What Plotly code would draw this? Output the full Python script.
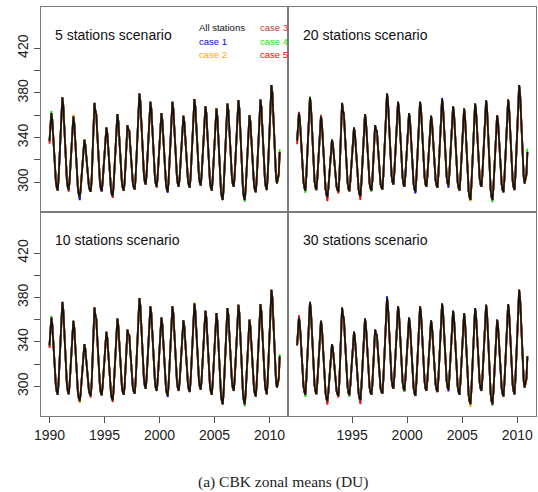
import plotly.graph_objects as go

W, H = 538, 492

years = list(range(1990, 2011))

# Monthly total ozone, "All stations" (DU), one row per year Jan..Dec
all_stations = [
    [337, 353, 362, 356, 341, 324, 310, 300, 295, 292.5, 305, 324],      # 1990
    [344, 366, 376, 369, 351, 330, 314, 301, 295.5, 293, 303, 318],      # 1991
    [334, 351, 359, 353, 337, 319, 305, 294, 289, 286.5, 294, 306],      # 1992
    [318, 332, 338, 334, 324, 312, 303, 296, 293, 291.5, 303, 322],      # 1993
    [348, 371, 364, 361, 345, 326, 311, 300, 294, 292, 301, 314],        # 1994
    [327, 342, 349, 344, 330, 315, 303, 294, 289, 287.5, 298.5, 315],    # 1995
    [333, 352, 361, 355, 340, 323, 310, 299, 294.5, 292.5, 301, 315],    # 1996
    [334, 351, 347, 346, 333, 318, 306, 298, 295, 293.5, 306, 326],      # 1997
    [347, 369, 379.5, 373, 355, 335, 318, 306, 300, 298, 309, 326],      # 1998
    [344, 363, 372, 366, 349, 330, 315, 304, 298, 296, 306, 321],        # 1999
    [337, 354, 362, 356, 341, 323, 309, 298.5, 293.5, 291.5, 303.5, 322],  # 2000
    [341, 362, 372, 366, 349, 330, 315, 304, 298, 296, 305.5, 320],      # 2001
    [335, 352, 359.5, 354, 340, 324, 311, 301.5, 297, 295, 307, 325],    # 2002
    [344, 365, 374.5, 368, 351, 332, 316, 305, 299, 297, 308, 324],      # 2003
    [341, 359.5, 368, 362, 345, 326.5, 311, 300, 295, 292.5, 303.5, 320],  # 2004
    [338, 357, 366, 359, 341, 321, 304.5, 292, 286.5, 284, 297, 317],    # 2005
    [337.5, 360, 370.5, 364.5, 348, 329.5, 314.5, 303.5, 298, 296, 307.5, 325.5],  # 2006
    [344, 364, 373.5, 366, 346.5, 324, 306.5, 293, 286.5, 284, 295.5, 313],  # 2007
    [331, 351, 360, 354.5, 339, 322, 308, 298, 293, 291, 303.5, 322.5],  # 2008
    [342.5, 364, 374, 367.5, 350, 329.5, 313, 301, 295.5, 293, 307, 328.5],  # 2009
    [351, 376, 387, 380, 361, 339, 320, 305, 299, 302, 307, 327],        # 2010
]

case_names = ["case 1", "case 2", "case 3", "case 4", "case 5"]
case_colors = ["#0000ff", "#ffa500", "#cd3333", "#00ee00", "#ff0000"]
case_draw_order = ["case 5", "case 4", "case 3", "case 1", "case 2"]

scenarios = ["5 stations scenario", "20 stations scenario",
             "10 stations scenario", "30 stations scenario"]

# Small departures of each case from "All stations" (month index -> DU),
# read off where the coloured lines peek out from under the black one.
case_offsets = {
    "5 stations scenario": {
        "case 1": {33: -2.5, 160: 1.5, 129: -1.0},
        "case 2": {26: 1.5, 250: -2.0, 57: 1.0},
        "case 3": {0: -1.5},
        "case 4": {2: 2.0, 213: -1.5, 251: 2.5},
        "case 5": {0: -2.5, 21: -1.5, 69: -1.5, 117: -1.0, 33: -1.0},
    },
    "20 stations scenario": {
        "case 1": {129: -1.5, 165: -2.0, 158: 1.0},
        "case 2": {250: -2.5, 189: -1.0},
        "case 3": {26: 1.5, 40: -1.5},
        "case 4": {9: -2.0, 14: 1.0, 213: -2.0, 251: 3.0, 81: -1.0},
        "case 5": {0: -3.0, 2: 1.0, 33: -3.5, 69: -3.5, 87: -2.0, 45: -1.5},
    },
    "10 stations scenario": {
        "case 1": {160: 1.5, 129: -1.0},
        "case 2": {33: -1.5, 250: -2.0},
        "case 3": {0: -1.5},
        "case 4": {2: 1.5, 213: -2.0, 251: 2.0, 158: 1.0},
        "case 5": {0: -2.5, 45: -1.5, 69: -1.5},
    },
    "30 stations scenario": {
        "case 1": {86: 2.0, 98: 1.5, 165: -1.5, 233: -1.5},
        "case 2": {189: -2.5, 250: -2.5},
        "case 3": {87: -2.0},
        "case 4": {9: -2.0, 57: -1.5, 213: -1.5, 117: -1.0},
        "case 5": {2: 2.0, 33: -3.0, 69: -3.5, 45: -1.5},
    },
}

x_ticks_left = [1990, 1995, 2000, 2005, 2010]
x_ticks_right = [1995, 2000, 2005, 2010]
y_ticks = [300, 320, 340, 360, 380, 400, 420]
y_ticktext = ["300", "", "340", "", "380", "", "420"]

# flatten monthly series
t = [y + m / 12 for y in years for m in range(12)]
base = [v for row in all_stations for v in row]

# layout geometry (pixels)
xl0, xm, xr1 = 40.7, 288.3, 536.0
yt0, ym, yb1 = 7.0, 212.0, 416.0
def px(x):
    return x / W
def py(y):
    return 1 - y / H

domains = {
    "5 stations scenario": ([px(xl0), px(xm)], [py(ym), py(yt0)]),
    "20 stations scenario": ([px(xm), px(xr1)], [py(ym), py(yt0)]),
    "10 stations scenario": ([px(xl0), px(xm)], [py(yb1), py(ym)]),
    "30 stations scenario": ([px(xm), px(xr1)], [py(yb1), py(ym)]),
}

fig = go.Figure()
layout = dict(
    width=W, height=H, autosize=False,
    margin=dict(l=0, r=0, t=0, b=0),
    paper_bgcolor="white", plot_bgcolor="white",
    showlegend=False,
    font=dict(family="Liberation Sans, Arial, sans-serif", color="#222222"),
)

tickfont = dict(family="Liberation Sans, Arial, sans-serif", size=14, color="#222222")
color_of = dict(zip(case_names, case_colors))

for i, sc in enumerate(scenarios):
    k = "" if i == 0 else str(i + 1)
    xa, ya = "x" + k, "y" + k
    for cname in case_draw_order:
        offs = case_offsets[sc].get(cname, {})
        vals = [v + offs.get(j, 0) for j, v in enumerate(base)]
        fig.add_trace(go.Scatter(x=t, y=vals, mode="lines", xaxis=xa, yaxis=ya,
                                 line=dict(color=color_of[cname], width=1.8),
                                 hoverinfo="skip"))
    fig.add_trace(go.Scatter(x=t, y=base, mode="lines", xaxis=xa, yaxis=ya,
                             line=dict(color="#161210", width=1.7), hoverinfo="skip"))

    dx, dy = domains[sc]
    is_left = i in (0, 2)
    is_bottom = i in (2, 3)
    xax = dict(domain=dx, range=[1989.2, 2011.7], anchor=ya, automargin=False,
               showgrid=False, zeroline=False, showline=True, mirror=True,
               linecolor="#7a7a7a", linewidth=1.2)
    if is_bottom:
        xax.update(tickmode="array",
                   tickvals=x_ticks_left if is_left else x_ticks_right,
                   ticks="outside", ticklen=6, tickcolor="#555555", tickwidth=1,
                   tickfont=tickfont, showticklabels=True)
    else:
        xax.update(showticklabels=False, ticks="")
    yax = dict(domain=dy, range=[273.3, 457], anchor=xa, automargin=False,
               showgrid=False, zeroline=False, showline=True, mirror=True,
               linecolor="#7a7a7a", linewidth=1.2)
    if is_left:
        yax.update(tickmode="array", tickvals=y_ticks, ticktext=y_ticktext,
                   ticks="outside", ticklen=6, tickcolor="#555555", tickwidth=1,
                   tickangle=-90, tickfont=tickfont, showticklabels=True)
    else:
        yax.update(showticklabels=False, ticks="")
    layout["xaxis" + k] = xax
    layout["yaxis" + k] = yax

annotations = []
title_pos = {
    "5 stations scenario": (52.7, 35.5),
    "20 stations scenario": (301.0, 35.5),
    "10 stations scenario": (52.7, 240.0),
    "30 stations scenario": (301.0, 240.0),
}
for sc, (x0, y0) in title_pos.items():
    annotations.append(dict(x=px(x0), y=py(y0), xref="paper", yref="paper",
                            text=sc, showarrow=False, xanchor="left", yanchor="middle",
                            font=dict(family="Liberation Sans, Arial, sans-serif",
                                      size=14, color="#111111")))

legend_labels = ["All stations"] + case_names
legend_colors = ["#111111"] + case_colors
legend_pos = [(197.0, 28.0), (197.0, 41.5), (197.0, 54.5),
              (258.0, 28.0), (258.0, 41.5), (258.0, 54.5)]
for lab, col, (x0, y0) in zip(legend_labels, legend_colors, legend_pos):
    annotations.append(dict(x=px(x0), y=py(y0), xref="paper", yref="paper",
                            text=lab, showarrow=False, xanchor="left", yanchor="middle",
                            font=dict(family="Liberation Sans, Arial, sans-serif",
                                      size=9.5, color=col)))

annotations.append(dict(x=px(283), y=py(481.5), xref="paper", yref="paper",
                        text="(a) CBK zonal means (DU)", showarrow=False,
                        xanchor="center", yanchor="middle",
                        font=dict(family="Liberation Serif, Times New Roman, serif",
                                  size=15.5, color="#222222")))
layout["annotations"] = annotations

fig.update_layout(**layout)
fig.write_html("out.html", config={"displayModeBar": False},
               post_script="document.body.style.margin='0';document.body.style.overflow='hidden';")
